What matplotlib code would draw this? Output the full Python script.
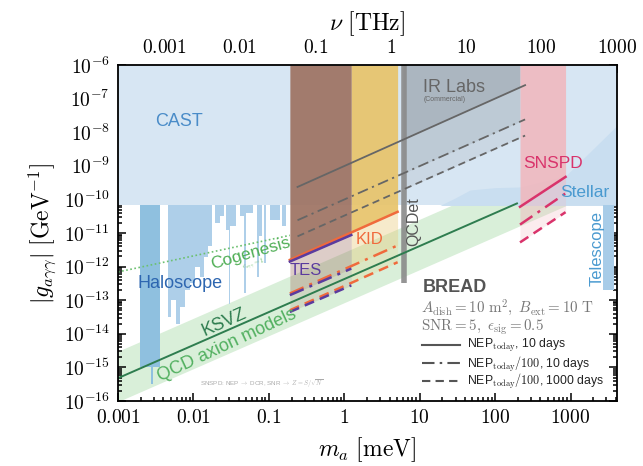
import numpy as np
import matplotlib
matplotlib.use("Agg")
import matplotlib.pyplot as plt
from matplotlib.ticker import FixedLocator, FixedFormatter, LogLocator, NullFormatter

plt.rcParams['mathtext.fontset'] = 'cm'
plt.rcParams['font.family'] = ['Liberation Sans', 'DejaVu Sans']

# ------------------------------------------------------------------ data
MEV_PER_THZ = 4.1357
x_lim = [1e-3, 1000 * MEV_PER_THZ]
y_lim = [1e-16, 1e-6]

x_ticks = [1e-3, 1e-2, 1e-1, 1, 10, 100, 1000]
x_tick_labels = ['0.001', '0.01', '0.1', '1', '10', '100', '1000']
nu_ticks = [1e-3, 1e-2, 1e-1, 1, 10, 100, 1000]
nu_tick_labels = ['0.001', '0.01', '0.1', '1', '10', '100', '1000']
y_tick_exps = list(range(-16, -5))

cast_log = -10.18

# haloscope exclusions (mass edges in meV, lower limit log10 g per interval; None = no limit)
halo_main_edges = [0.00196, 0.0027, 0.0029, 0.0036]
halo_main_log = [-15.0, -15.5, -15.0]
halo_edges = [0.0046, 0.0051, 0.0059, 0.0066, 0.0077, 0.0090, 0.0105, 0.0122,
              0.0138, 0.0156, 0.0177, 0.0193, 0.0225, 0.0254, 0.0271, 0.0297,
              0.0305, 0.0366, 0.0415, 0.047, 0.050, 0.062, 0.070, 0.074,
              0.081, 0.086, 0.092, 0.104, 0.14, 0.15, 0.17]
halo_log = [-13.5, -13.0, -13.7, -13.2, -12.7, -12.5, -12.0, -12.3, -11.7,
            -11.4, None, -10.7, -10.5, None, -10.9, -13.1, -10.8, None,
            -10.5, -12.8, -10.4, None, -12.3, -11.1, None, -11.9, None,
            -10.6, None, -10.8]

# stellar / other astrophysical region (upper edge)
stellar_m = [18.6, 30, 46.6, 100, 214, 860, 4136]
stellar_log = [-10.18, -9.95, -9.72, -9.65, -9.63, -9.30, -7.8]
telescope_m = [2700, 3800]
telescope_log = [-12.7, -10.18]

# QCD axion band and KSVZ
ksvz_m = [1e-3, 195]
ksvz_log = [-15.32, -10.12]
qcd_m = [1e-3, 860]
qcd_upper_log = [-14.52, -8.69]
qcd_lower_log = [-16.02, -10.19]

cogenesis_m = [1e-3, 0.19]
cogenesis_log = [-12.16, -11.07]

# BREAD projections
grey_m = [0.24, 250]
grey_solid = [-9.63, -6.60]
grey_dashdot = [-10.62, -7.62]
grey_dashed = [-11.10, -8.10]

tes_m = [0.19, 1.24]
tes_solid = [-11.85, -11.06]
tes_dashdot = [-12.85, -12.06]
tes_dashed = [-13.35, -12.56]

kid_m = [0.19, 5.1]
kid_solid = [-11.80, -10.37]
kid_dashdot = [-12.80, -11.37]
kid_dashed = [-13.30, -11.87]

snspd_m = [214, 860]
snspd_solid = [-10.22, -9.33]
snspd_dashdot = [-10.75, -9.82]
snspd_dashed = [-11.28, -10.38]

tes_band = [0.19, 1.24]
kid_band = [1.24, 5.1]
ir_band = [6.0, 214]
snspd_band = [214, 860]

qcdet_m = 6.2
qcdet_log = -12.49

# ------------------------------------------------------------------ figure
fig = plt.figure(figsize=(6.43, 4.66), dpi=100)
ax = fig.add_axes([118 / 643, 65 / 466, 499 / 643, 336 / 466])
ax.set_xscale('log')
ax.set_yscale('log')
ax.set_xlim(x_lim)
ax.set_ylim(y_lim)

P = lambda v: 10.0 ** np.asarray(v, dtype=float)
cast = 10 ** cast_log

# QCD band
qm = np.geomspace(qcd_m[0], qcd_m[1], 50)
ax.fill_between(qm, P(np.interp(np.log10(qm), np.log10(qcd_m), qcd_lower_log)),
                P(np.interp(np.log10(qm), np.log10(qcd_m), qcd_upper_log)),
                color='#d9efd9', lw=0, zorder=1)

# CAST
ax.fill_between(x_lim, [cast, cast], [y_lim[1]] * 2, color='#d7e6f3', lw=0, zorder=2)

# haloscopes
hm_low = P(halo_main_log + [halo_main_log[-1]])
ax.fill_between(halo_main_edges, hm_low, cast, step='post', color='#8fc0df', lw=0, zorder=2)
hl = [cast_log if v is None else v for v in halo_log]
hl = P(hl + [hl[-1]])
ax.fill_between(halo_edges, hl, cast, step='post', color='#aecfe9', lw=0, zorder=2)

# stellar + telescope
ax.fill_between(stellar_m, [cast] * len(stellar_m), P(stellar_log), color='#c9def0', lw=0, zorder=2)
ax.fill_between(telescope_m, P([telescope_log[0]] * 2), P([telescope_log[1]] * 2),
                color='#a8cce8', lw=0, zorder=2)

# detector bands
def band(rng, lm, solid, dd, da, color, alphas):
    m = np.geomspace(rng[0], rng[1], 60)
    L = np.log10(m)
    s = P(np.interp(L, np.log10(lm), solid))
    d1 = P(np.interp(L, np.log10(lm), dd))
    d2 = P(np.interp(L, np.log10(lm), da))
    ax.fill_between(m, s, y_lim[1], color=color, alpha=alphas[0], lw=0, zorder=3)
    ax.fill_between(m, d1, s, color=color, alpha=alphas[1], lw=0, zorder=3)
    ax.fill_between(m, d2, d1, color=color, alpha=alphas[2], lw=0, zorder=3)

band(tes_band, tes_m, tes_solid, tes_dashdot, tes_dashed, '#9e7262', (0.92, 0.35, 0.18))
band(kid_band, kid_m, kid_solid, kid_dashdot, kid_dashed, '#e8c46a', (0.92, 0.35, 0.18))
band(ir_band, grey_m, grey_solid, grey_dashdot, grey_dashed, '#8f979f', (0.6, 0.35, 0.18))
band(snspd_band, snspd_m, snspd_solid, snspd_dashdot, snspd_dashed, '#f2b6bc', (0.85, 0.45, 0.25))

# QCDet bar
ax.plot([qcdet_m, qcdet_m], [10 ** qcdet_log, y_lim[1]], color='#8a8a8a', lw=4, alpha=0.9,
        solid_capstyle='butt', zorder=4)

# KSVZ + cogenesis
ax.plot(ksvz_m, P(ksvz_log), color='#2e7d4f', lw=1.4, zorder=4)
ax.plot(cogenesis_m, P(cogenesis_log), color='#6cc070', lw=1.2, ls=(0, (1, 1.5)), zorder=4)

DD = (0, (6, 2.5, 1.2, 2.5))
DA = (0, (4, 2.5))
for m, s, d1, d2, c, lw in [
        (grey_m, grey_solid, grey_dashdot, grey_dashed, '#666666', 1.3),
        (kid_m, kid_solid, kid_dashdot, kid_dashed, '#f06a3c', 1.8),
        (tes_m, tes_solid, tes_dashdot, tes_dashed, '#5b3b9e', 1.8),
        (snspd_m, snspd_solid, snspd_dashdot, snspd_dashed, '#d9336b', 1.8)]:
    ax.plot(m, P(s), color=c, lw=lw, zorder=5)
    ax.plot(m, P(d1), color=c, lw=lw, ls=DD, zorder=5)
    ax.plot(m, P(d2), color=c, lw=lw, ls=DA, zorder=5)

# ------------------------------------------------------------------ text
T = dict(zorder=6)
ax.text(0.00644, 10 ** -7.67, 'CAST', color='#4a8cc8', fontsize=13, ha='center', va='center', **T)
ax.text(0.00664, 10 ** -12.49, 'Haloscope', color='#2d66b0', fontsize=13, ha='center', va='center', **T)
ax.text(0.058, 10 ** -11.62, 'Cogenesis', color='#4fae55', fontsize=12.5, ha='center', va='center', rotation=16, **T)
ax.text(0.0637, 10 ** -11.92, r'$c_{a\gamma\gamma}=1$', color='#7cc47c', fontsize=5, ha='center', va='center', rotation=16, **T)
ax.text(0.0255, 10 ** -13.65, 'KSVZ', color='#2e7d4f', fontsize=13, ha='center', va='center', rotation=24, **T)
ax.text(0.0279, 10 ** -14.33, 'QCD axion models', color='#52b060', fontsize=13, ha='center', va='center', rotation=25, **T)
ax.text(0.311, 10 ** -12.13, 'TES', color='#5b3b9e', fontsize=12, ha='center', va='center', **T)
ax.text(2.13, 10 ** -11.18, 'KID', color='#f06a3c', fontsize=12, ha='center', va='center', **T)
ax.text(8.43, 10 ** -10.67, 'QCDet', color='#555555', fontsize=11.5, ha='center', va='center', rotation=90, **T)
ax.text(11.1, 10 ** -6.68, 'IR Labs', color='#666666', fontsize=13, ha='left', va='center', **T)
ax.text(11.3, 10 ** -7.04, '(Commercial)', color='#666666', fontsize=5, ha='left', va='center', **T)
ax.text(588, 10 ** -8.92, 'SNSPD', color='#d9336b', fontsize=12.5, ha='center', va='center', **T)
ax.text(1563, 10 ** -9.78, 'Stellar', color='#4a9ad0', fontsize=12.5, ha='center', va='center', **T)
ax.text(2250, 10 ** -11.45, 'Telescope', color='#4a9ad0', fontsize=12, ha='center', va='center', rotation=90, **T)
ax.text(0.0813, 10 ** -15.49, r'SNSPD: NEP $\rightarrow$ DCR, SNR $\rightarrow$ $Z=S/\sqrt{N}$',
        color='#aaaaaa', fontsize=4.5, ha='center', va='center', **T)

# BREAD info block (axes fraction)
ax.text(0.61, 0.339, 'BREAD', color='#555555', fontsize=13, fontweight='bold', ha='left', va='center',
        transform=ax.transAxes, **T)
ax.text(0.608, 0.277, r'$A_\mathrm{dish}=10\ \mathrm{m}^2,\ B_\mathrm{ext}=10\ \mathrm{T}$', color='#777777',
        fontsize=10.8, ha='left', va='center', transform=ax.transAxes, **T)
ax.text(0.608, 0.219, r'$\mathrm{SNR}=5,\ \epsilon_\mathrm{sig}=0.5$', color='#777777',
        fontsize=10.8, ha='left', va='center', transform=ax.transAxes, **T)
leg_y = [0.168, 0.113, 0.0595]
leg_ls = ['-', DD, DA]
leg_txt = [r'NEP$_\mathrm{today}$, 10 days', r'NEP$_\mathrm{today}$$/100$, 10 days',
           r'NEP$_\mathrm{today}$$/100$, 1000 days']
for yy, ls, tx in zip(leg_y, leg_ls, leg_txt):
    ax.plot([0.609, 0.685], [yy, yy], color='#555555', lw=1.5, ls=ls, transform=ax.transAxes, zorder=6)
    ax.text(0.70, yy, tx, color='#222222', fontsize=8.8, ha='left', va='center', transform=ax.transAxes, **T)

# ------------------------------------------------------------------ axes
ax.xaxis.set_major_locator(FixedLocator(x_ticks))
ax.xaxis.set_major_formatter(FixedFormatter(['$%s$' % s for s in x_tick_labels]))
ax.xaxis.set_minor_locator(LogLocator(base=10, subs=np.arange(2, 10), numticks=100))
ax.xaxis.set_minor_formatter(NullFormatter())
ax.yaxis.set_major_locator(FixedLocator([10.0 ** e for e in y_tick_exps]))
ax.yaxis.set_major_formatter(FixedFormatter([r'$10^{%d}$' % e for e in y_tick_exps]))
ax.yaxis.set_minor_locator(LogLocator(base=10, subs=np.arange(2, 10), numticks=100))
ax.yaxis.set_minor_formatter(NullFormatter())
ax.tick_params(which='both', direction='in', right=True, top=False, labelsize=14, width=1.1)
ax.tick_params(which='major', length=6)
ax.tick_params(which='minor', length=3)
ax.tick_params(axis='x', pad=6)
ax.tick_params(axis='y', pad=6)
for s in ax.spines.values():
    s.set_linewidth(1.3)
    s.set_zorder(10)

sec = ax.secondary_xaxis('top', functions=(lambda m: m / MEV_PER_THZ, lambda n: n * MEV_PER_THZ))
sec.xaxis.set_major_locator(FixedLocator(nu_ticks))
sec.xaxis.set_major_formatter(FixedFormatter(['$%s$' % s for s in nu_tick_labels]))
sec.xaxis.set_minor_locator(LogLocator(base=10, subs=np.arange(2, 10), numticks=100))
sec.xaxis.set_minor_formatter(NullFormatter())
sec.tick_params(which='both', direction='in', labelsize=14, width=1.1, pad=6)
sec.tick_params(which='major', length=6)
sec.tick_params(which='minor', length=3)
sec.set_xlabel(r'$\nu\ [\mathrm{THz}]$', fontsize=17, labelpad=6)

ax.set_xlabel(r'$m_a\ [\mathrm{meV}]$', fontsize=17, labelpad=6)
ax.set_ylabel(r'$|g_{a\gamma\gamma}|\ [\mathrm{GeV}^{-1}]$', fontsize=17, labelpad=4)

fig.savefig('out.png', dpi=100)
